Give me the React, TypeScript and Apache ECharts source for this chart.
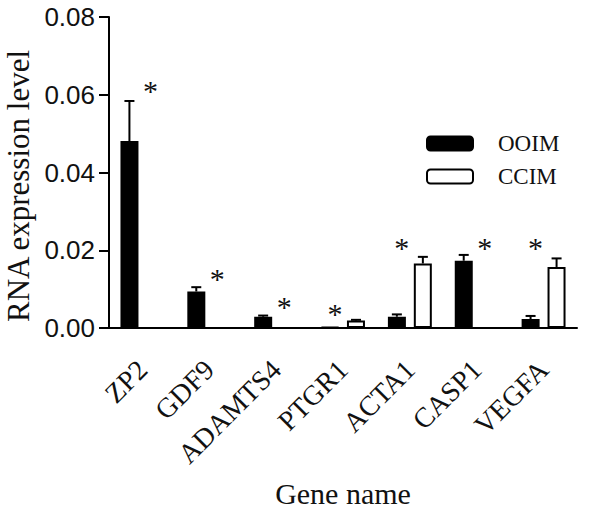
import React, { useEffect, useRef } from "react";
import * as echarts from "echarts";

const categories = ["ZP2", "GDF9", "ADAMTS4", "PTGR1", "ACTA1", "CASP1", "VEGFA"];
const ooimMean = [0.0481, 0.0094, 0.0029, 0.0002, 0.0029, 0.0173, 0.0023];
const ooimErr = [0.0103, 0.0011, 0.0003, 0, 0.0006, 0.0015, 0.0008];
const ccimMean = [0, 0, 0, 0.0019, 0.0166, 0, 0.0157];
const ccimErr = [0, 0, 0, 0.0002, 0.0017, 0, 0.0022];
const starY = [0.0625, 0.0139, 0.0069, 0.0051, 0.0221, 0.0221, 0.0221];
const starSide = [1, 1, 1, -1, -1, 1, -1];
const yTicks = [0, 0.02, 0.04, 0.06, 0.08];

const SERIF = "Liberation Serif";
const SANS = "Liberation Sans";
const BAR_W = 18;
const BAR_OFF = 13;

export default function App() {
  const ref = useRef<HTMLDivElement>(null);
  useEffect(() => {
    if (!ref.current) return;
    const chart = echarts.init(ref.current, null, { renderer: "svg" });
    const errData = (means: number[], errs: number[]) =>
      means.map((m, i) => [i, m, m + errs[i], errs[i]]);
    const errRender = (side: number) => (params: any, api: any) => {
      const e = api.value(3);
      if (!e) return null;
      const b = api.coord([api.value(0), api.value(1)]);
      const t = api.coord([api.value(0), api.value(2)]);
      const x = b[0] + side * BAR_OFF;
      return {
        type: "group",
        children: [
          { type: "line", shape: { x1: x, y1: b[1], x2: x, y2: t[1] }, style: { stroke: "#000", lineWidth: 2 } },
          { type: "line", shape: { x1: x - 5, y1: t[1], x2: x + 5, y2: t[1] }, style: { stroke: "#000", lineWidth: 2 } },
        ],
      };
    };
    chart.setOption({
      animation: false,
      grid: { left: 109, right: 23, top: 17, bottom: 183, containLabel: false, outerBoundsMode: "none" },
      legend: {
        orient: "vertical",
        left: 426,
        top: 132,
        padding: 0,
        itemWidth: 46,
        itemHeight: 14,
        itemGap: 10,
        data: ["OOIM", "CCIM"],
        textStyle: { fontFamily: SERIF, fontSize: 23, color: "#111", padding: [0, 0, 0, 20] },
      },
      xAxis: {
        type: "category",
        data: categories,
        name: "Gene name",
        nameLocation: "middle",
        nameGap: 150,
        nameTextStyle: { fontFamily: SERIF, fontSize: 30, color: "#111" },
        axisLine: { lineStyle: { color: "#000", width: 2 } },
        axisTick: { alignWithLabel: true, length: 12, lineStyle: { color: "#000", width: 2 } },
        axisLabel: { rotate: 45, fontFamily: SERIF, fontSize: 28, color: "#111", margin: 37, interval: 0 },
      },
      yAxis: {
        type: "value",
        min: yTicks[0],
        max: yTicks[yTicks.length - 1],
        interval: 0.02,
        splitLine: { show: false },
        axisLine: { show: true, lineStyle: { color: "#000", width: 2 } },
        axisTick: { show: true, length: 10, lineStyle: { color: "#000", width: 2 } },
        axisLabel: { fontFamily: SANS, fontSize: 26, color: "#111", margin: 14, formatter: (v: number) => v.toFixed(2) },
      },
      graphic: [
        {
          type: "text",
          x: 18,
          y: 186,
          rotation: Math.PI / 2,
          style: { text: "RNA expression level", fontFamily: SERIF, fontSize: 31, fill: "#111", align: "center", verticalAlign: "middle" },
        },
      ],
      series: [
        {
          name: "OOIM",
          type: "bar",
          data: ooimMean,
          barWidth: BAR_W,
          barGap: "44%",
          itemStyle: { color: "#000", borderColor: "#000", borderWidth: 2 },
        },
        {
          name: "CCIM",
          type: "bar",
          data: ccimMean,
          barWidth: BAR_W,
          barGap: "44%",
          itemStyle: { color: "#fff", borderColor: "#000", borderWidth: 2 },
        },
        { type: "custom", data: errData(ooimMean, ooimErr), renderItem: errRender(-1), z: 3 },
        { type: "custom", data: errData(ccimMean, ccimErr), renderItem: errRender(1), z: 3 },
        {
          type: "custom",
          data: starY.map((y, i) => [i, y, starSide[i]]),
          renderItem: (params: any, api: any) => {
            const p = api.coord([api.value(0), api.value(1)]);
            return {
              type: "text",
              x: p[0] + api.value(2) * 8,
              y: p[1] + 5,
              style: { text: "*", fontFamily: SERIF, fontSize: 30, fill: "#111", align: "center", verticalAlign: "middle" },
            };
          },
          z: 3,
        },
      ],
    });
    return () => chart.dispose();
  }, []);
  return <div ref={ref} style={{ position: "absolute", left: 0, top: 0, width: 600, height: 511 }} />;
}
